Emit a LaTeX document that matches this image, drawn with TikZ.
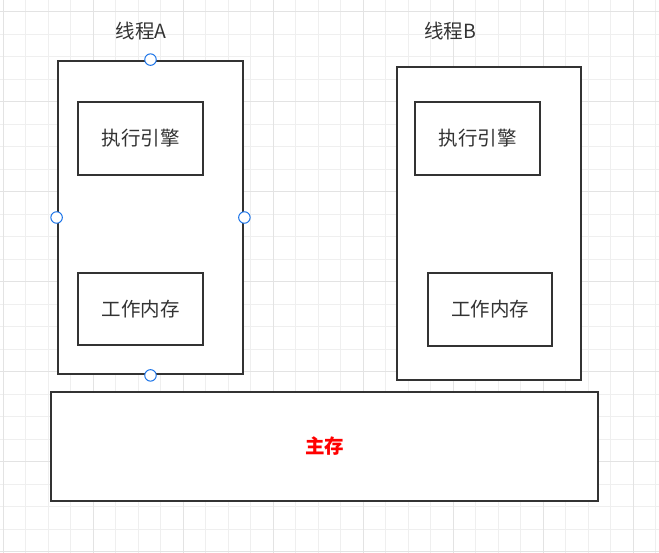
\documentclass[tikz,border=0pt]{standalone}
\usepackage{fontspec}
\setmainfont{Noto Sans CJK SC}
\definecolor{ink}{HTML}{333333}
\definecolor{gridminor}{HTML}{EFEFEF}
\definecolor{gridmajor}{HTML}{E3E3E3}
\definecolor{handle}{HTML}{1A73E8}
\begin{document}
\begin{tikzpicture}[x=1pt,y=-1pt,
  box/.style={draw=ink, line width=2.8pt, fill=white, inner sep=0pt, font=\fontsize{19.5}{22}\selectfont, text=ink},
  lbl/.style={inner sep=0pt, font=\fontsize{19.5}{22}\selectfont, text=ink},
  hdl/.style={circle, draw=handle, fill=white, line width=1pt, minimum size=11.5pt, inner sep=0pt}]
\useasboundingbox[fill=white] (0,0) rectangle (659,553);
% grid
\foreach \i in {0,...,29} {
  \draw[gridminor, line width=1pt] ({3.3+22.5*\i},0) -- ({3.3+22.5*\i},553);
}
\foreach \j in {0,...,24} {
  \draw[gridminor, line width=1pt] (0,{11.7+22.5*\j}) -- (659,{11.7+22.5*\j});
}
\foreach \i in {0,...,7} {
  \draw[gridmajor, line width=1pt] ({3.3+90*\i},0) -- ({3.3+90*\i},553);
}
\foreach \j in {0,...,6} {
  \draw[gridmajor, line width=1pt] (0,{11.7+90*\j}) -- (659,{11.7+90*\j});
}
% thread A
\node[box, minimum width=185pt, minimum height=313pt] (tA) at (150.5,217.5) {};
\node[box, minimum width=125pt, minimum height=73pt] (eA) at (140.5,138.5) {执行引擎};
\node[box, minimum width=125pt, minimum height=72pt] (wA) at (140.5,309) {工作内存};
\node[lbl] (labA) at (141,31) {线程A};
% thread B
\node[box, minimum width=184pt, minimum height=313pt] (tB) at (489,223.5) {};
\node[box, minimum width=125pt, minimum height=73pt] (eB) at (477.5,138.5) {执行引擎};
\node[box, minimum width=124pt, minimum height=73pt] (wB) at (490,309.5) {工作内存};
\node[lbl] (labB) at (450,31) {线程B};
% main memory
\node[box, minimum width=547pt, minimum height=109pt, text=red, font=\fontsize{19.5}{22}\selectfont\bfseries] (mm) at (324.5,446.5) {主存};
% selection handles
\node[hdl] (hN) at (tA.north) {};
\node[hdl] (hW) at (tA.west) {};
\node[hdl] (hE) at (tA.east) {};
\node[hdl] (hS) at (tA.south) {};
\end{tikzpicture}
\end{document}
